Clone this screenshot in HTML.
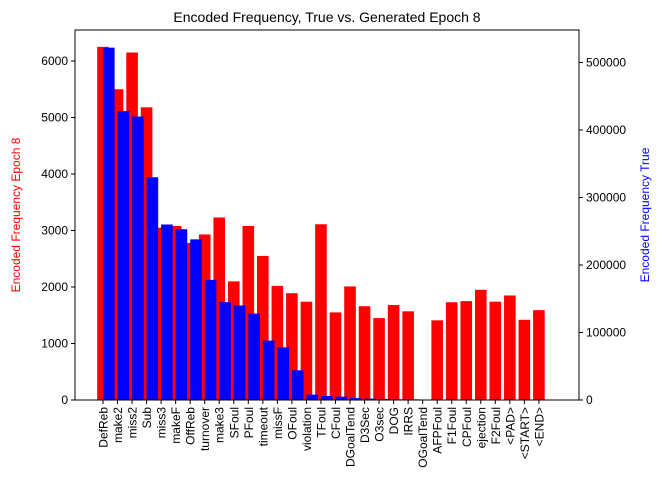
<!DOCTYPE html>
<html><head><meta charset="utf-8"><style>
body{margin:0;background:#fff;font-family:"Liberation Sans",sans-serif}
svg text{font-family:"Liberation Sans","DejaVu Sans",sans-serif}
</style></head><body>
<svg id="chart" width="663" height="494" xmlns="http://www.w3.org/2000/svg">
<text x="327" y="22" font-size="14" text-anchor="middle">Encoded Frequency, True vs. Generated Epoch 8</text>
<text transform="translate(20,215) rotate(-90)" font-size="12" fill="red" text-anchor="middle">Encoded Frequency Epoch 8</text>
<text transform="translate(649,215) rotate(-90)" font-size="12" fill="blue" text-anchor="middle">Encoded Frequency True</text>
<g id="bars"></g><g id="axes"></g>
</svg>
<script>
const categories=["DefReb","make2","miss2","Sub","miss3","makeF","OffReb","turnover","make3","SFoul","PFoul","timeout","missF","OFoul","violation","TFoul","CFoul","DGoalTend","D3Sec","O3sec","DOG","IRRS","OGoalTend","AFPFoul","F1Foul","CPFoul","ejection","F2Foul","<PAD>","<START>","<END>"];
const generated=[6250,5500,6150,5180,3050,3080,2780,2930,3230,2100,3080,2550,2020,1890,1740,3110,1550,2010,1660,1450,1680,1570,0,1410,1730,1750,1950,1740,1850,1420,1590];
const trueVals=[522000,428000,420000,330000,260000,253000,238000,178000,145000,140000,128000,88000,78000,44000,8000,6000,5000,3000,2000,1500,1000,1000,500,0,0,0,0,0,0,0,0];
const leftTicks=[0,1000,2000,3000,4000,5000,6000];
const rightTicks=[0,100000,200000,300000,400000,500000];
const NS="http://www.w3.org/2000/svg";
const L=75,R=579,T=30,B=400;
const xPos=i=>103+14.53*i;
const yL=v=>B-v*0.0565;
const yR=v=>B-v*0.000675;
const bars=document.getElementById('bars'),axes=document.getElementById('axes');
function mk(tag,at,parent){const e=document.createElementNS(NS,tag);for(const k in at)e.setAttribute(k,at[k]);parent.appendChild(e);return e;}
generated.forEach((v,i)=>{const r=mk('rect',{x:xPos(i)-5.8,y:yL(v),width:11.6,height:B-yL(v),fill:'red'},bars);

});
trueVals.forEach((v,i)=>{const r=mk('rect',{x:xPos(i),y:yR(v),width:11.6,height:B-yR(v),fill:'blue'},bars);

});
const f=mk('rect',{x:L,y:T,width:R-L,height:B-T,fill:'none',stroke:'#000','stroke-width':1},axes);


leftTicks.forEach(v=>{const y=yL(v);mk('line',{x1:L-4,x2:L,y1:y,y2:y,stroke:'#000'},axes);
const t=mk('text',{x:L-7,y:y+4,'font-size':12,'text-anchor':'end'},axes);t.textContent=v;

});
rightTicks.forEach(v=>{const y=yR(v);mk('line',{x1:R,x2:R+4,y1:y,y2:y,stroke:'#000'},axes);
const t=mk('text',{x:R+7,y:y+4,'font-size':12},axes);t.textContent=v;

});
categories.forEach((c,i)=>{const x=xPos(i);mk('line',{x1:x,x2:x,y1:B,y2:B+4,stroke:'#000'},axes);
const t=mk('text',{transform:`translate(${x+4.5},${B+7}) rotate(-90)`,'font-size':12,'text-anchor':'end'},axes);t.textContent=c;

});
</script>
</body></html>
